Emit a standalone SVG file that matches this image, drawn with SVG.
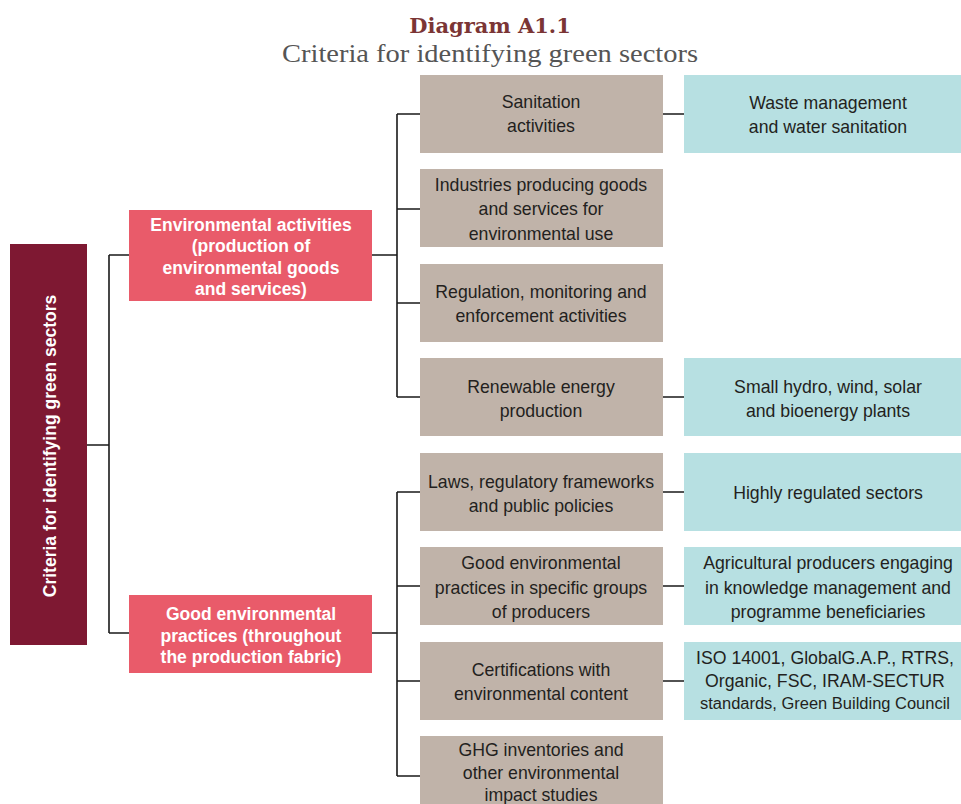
<svg xmlns="http://www.w3.org/2000/svg" width="961" height="804" viewBox="0 0 961 804">
<style>
.t{font-family:"Liberation Sans",Arial,sans-serif;font-size:17.7px;fill:#231f20;text-anchor:middle}
.w{font-family:"Liberation Sans",Arial,sans-serif;font-size:17.5px;font-weight:bold;fill:#fff;text-anchor:middle}
.gray{fill:#c0b3a9}
.teal{fill:#b7e0e2}
.pink{fill:#e95b6a}
.c{stroke:#1a1a1a;stroke-width:1.6;fill:none}
</style>
<rect width="961" height="804" fill="#fff"/>
<g id="title">
<text x="490" y="33" font-family="'DejaVu Serif','Liberation Serif',serif" font-size="21" font-weight="bold" fill="#7b3535" text-anchor="middle">Diagram A1.1</text>
<text x="490" y="62" font-family="'Liberation Serif',serif" font-size="25" fill="#555" text-anchor="middle" textLength="416" lengthAdjust="spacingAndGlyphs">Criteria for identifying green sectors</text>
</g>
<g id="connectors" class="c">
<path d="M87 445H109M109 255V633M109 255H129M109 633H129"/>
<path d="M372 255H397M397 114V397M397 114H420M397 209H420M397 303H420M397 397H420"/>
<path d="M372 633H397M397 492V776M397 492H420M397 586H420M397 681H420M397 776H420"/>
<path d="M663 114H684M663 397H684M663 492H684M663 586H684M663 681H684"/>
</g>
<g id="root">
<rect x="10" y="244" width="77" height="401" fill="#7e1832"/>
<text class="w" transform="translate(56 446) rotate(-90)" font-size="18">Criteria for identifying green sectors</text>
</g>
<g id="env">
<rect class="pink" x="129" y="210" width="243" height="91"/>
<text class="w"><tspan x="251" y="231">Environmental activities</tspan><tspan x="251" y="252">(production of</tspan><tspan x="251" y="274">environmental goods</tspan><tspan x="251" y="295">and services)</tspan></text>
</g>
<g id="good">
<rect class="pink" x="129" y="595" width="243" height="78"/>
<text class="w"><tspan x="251" y="620">Good environmental</tspan><tspan x="251" y="642">practices (throughout</tspan><tspan x="251" y="663">the production fabric)</tspan></text>
</g>
<g id="sanitation">
<rect class="gray" x="420" y="75" width="243" height="78"/>
<text class="t"><tspan x="541" y="108">Sanitation</tspan><tspan x="541" y="132">activities</tspan></text>
</g>
<g id="industries">
<rect class="gray" x="420" y="169" width="243" height="78"/>
<text class="t"><tspan x="541" y="191">Industries producing goods</tspan><tspan x="541" y="215">and services for</tspan><tspan x="541" y="240">environmental use</tspan></text>
</g>
<g id="regulation">
<rect class="gray" x="420" y="264" width="243" height="78"/>
<text class="t"><tspan x="541" y="298">Regulation, monitoring and</tspan><tspan x="541" y="322">enforcement activities</tspan></text>
</g>
<g id="renewable">
<rect class="gray" x="420" y="358" width="243" height="78"/>
<text class="t"><tspan x="541" y="393">Renewable energy</tspan><tspan x="541" y="417">production</tspan></text>
</g>
<g id="laws">
<rect class="gray" x="420" y="453" width="243" height="78"/>
<text class="t"><tspan x="541" y="488">Laws, regulatory frameworks</tspan><tspan x="541" y="512">and public policies</tspan></text>
</g>
<g id="practices">
<rect class="gray" x="420" y="547" width="243" height="78"/>
<text class="t"><tspan x="541" y="569">Good environmental</tspan><tspan x="541" y="594">practices in specific groups</tspan><tspan x="541" y="618">of producers</tspan></text>
</g>
<g id="certifications">
<rect class="gray" x="420" y="642" width="243" height="78"/>
<text class="t"><tspan x="541" y="676">Certifications with</tspan><tspan x="541" y="700">environmental content</tspan></text>
</g>
<g id="ghg">
<rect class="gray" x="420" y="736" width="243" height="78"/>
<text class="t"><tspan x="541" y="756">GHG inventories and</tspan><tspan x="541" y="779">other environmental</tspan><tspan x="541" y="801">impact studies</tspan></text>
</g>
<g id="waste">
<rect class="teal" x="684" y="75" width="277" height="78"/>
<text class="t"><tspan x="828" y="109">Waste management</tspan><tspan x="828" y="133">and water sanitation</tspan></text>
</g>
<g id="hydro">
<rect class="teal" x="684" y="358" width="277" height="78"/>
<text class="t"><tspan x="828" y="393">Small hydro, wind, solar</tspan><tspan x="828" y="417">and bioenergy plants</tspan></text>
</g>
<g id="regulated">
<rect class="teal" x="684" y="453" width="277" height="78"/>
<text class="t"><tspan x="828" y="499">Highly regulated sectors</tspan></text>
</g>
<g id="agricultural">
<rect class="teal" x="684" y="547" width="277" height="78"/>
<text class="t"><tspan x="828" y="569">Agricultural producers engaging</tspan><tspan x="828" y="594">in knowledge management and</tspan><tspan x="828" y="618">programme beneficiaries</tspan></text>
</g>
<g id="iso">
<rect class="teal" x="684" y="642" width="277" height="78"/>
<text class="t" font-size="16.5"><tspan x="825" y="664">ISO 14001, GlobalG.A.P., RTRS,</tspan><tspan x="825" y="687">Organic, FSC, IRAM-SECTUR</tspan><tspan x="825" y="709" font-size="16" textLength="250" lengthAdjust="spacingAndGlyphs">standards, Green Building Council</tspan></text>
</g>
</svg>
